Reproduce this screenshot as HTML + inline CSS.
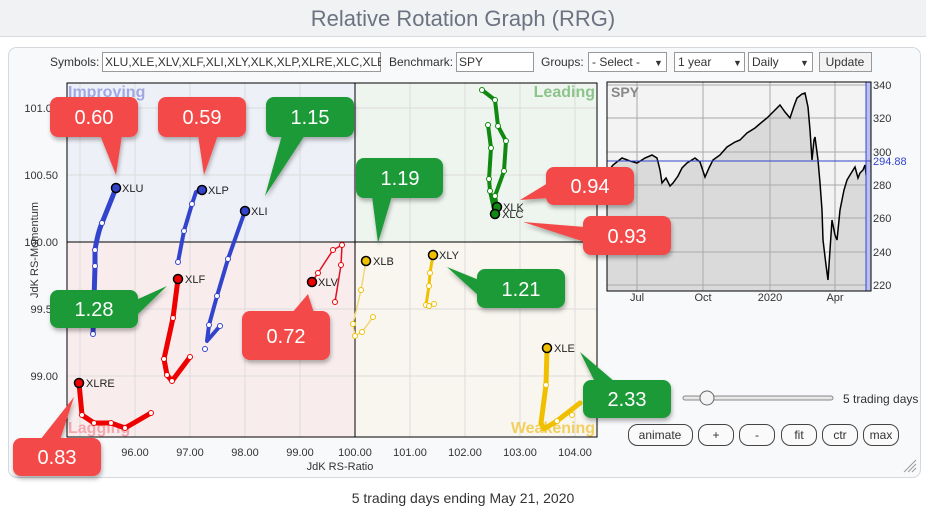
<!DOCTYPE html>
<html><head><meta charset="utf-8"><style>
body{margin:0;width:926px;height:511px;background:#fff;font-family:"Liberation Sans",Arial,sans-serif;overflow:hidden}
svg text{font-family:"Liberation Sans",Arial,sans-serif}
</style></head><body>
<svg width="926" height="511" viewBox="0 0 926 511" xmlns="http://www.w3.org/2000/svg">
<defs>
<filter id="sh" x="-20%" y="-20%" width="150%" height="150%"><feDropShadow dx="1" dy="3" stdDeviation="2" flood-color="#000" flood-opacity="0.3"/></filter>
</defs>
<rect x="0" y="0" width="926" height="36" fill="#f1f2f4"/>
<line x1="0" y1="36.5" x2="926" y2="36.5" stroke="#d8dadd"/>
<text x="463" y="26" text-anchor="middle" font-size="22" fill="#6b7280">Relative Rotation Graph (RRG)</text>
<rect x="8.5" y="47.5" width="912" height="430" rx="8" fill="#f8f9fb" stroke="#d5d8dc"/>
<!-- toolbar -->
<g font-size="12" fill="#333">
<text x="50" y="66">Symbols:</text>
<rect x="102.5" y="52.5" width="278" height="19" fill="#fff" stroke="#999"/>
<text x="105" y="66">XLU,XLE,XLV,XLF,XLI,XLY,XLK,XLP,XLRE,XLC,XLB</text>
<rect x="381" y="52" width="6" height="21" fill="#f8f9fb"/>
<text x="389" y="66">Benchmark:</text>
<rect x="456.5" y="52.5" width="77" height="19" fill="#fff" stroke="#999"/>
<text x="459" y="66">SPY</text>
<text x="541" y="66">Groups:</text>
<rect x="588.5" y="52.5" width="78" height="19" fill="#fff" stroke="#999"/>
<text x="592" y="66">- Select -</text><text x="654" y="66" font-size="9">▼</text>
<rect x="674.5" y="52.5" width="70" height="19" fill="#fff" stroke="#999"/>
<text x="678" y="66">1 year</text><text x="733" y="66" font-size="9">▼</text>
<rect x="748.5" y="52.5" width="64" height="19" fill="#fff" stroke="#999"/>
<text x="752" y="66">Daily</text><text x="800" y="66" font-size="9">▼</text>
<rect x="819.5" y="52.5" width="52" height="19" fill="#f3f3f3" stroke="#999"/>
<text x="845" y="66" text-anchor="middle">Update</text>
</g>
<!-- quadrants -->
<rect x="67" y="83" width="288" height="159" fill="#eef0f8"/>
<rect x="355" y="83" width="242" height="159" fill="#eef5ee"/>
<rect x="67" y="242" width="288" height="195" fill="#f9eced"/>
<rect x="355" y="242" width="242" height="195" fill="#f8f6ee"/>
<g stroke="#dcdcdc" stroke-width="1">
<line x1="80" y1="83" x2="80" y2="437"/><line x1="135" y1="83" x2="135" y2="437"/><line x1="190" y1="83" x2="190" y2="437"/><line x1="245" y1="83" x2="245" y2="437"/><line x1="300" y1="83" x2="300" y2="437"/><line x1="410" y1="83" x2="410" y2="437"/><line x1="465" y1="83" x2="465" y2="437"/><line x1="520" y1="83" x2="520" y2="437"/><line x1="575" y1="83" x2="575" y2="437"/>
<line x1="67" y1="108" x2="597" y2="108"/><line x1="67" y1="175" x2="597" y2="175"/><line x1="67" y1="309" x2="597" y2="309"/><line x1="67" y1="376" x2="597" y2="376"/>
</g>
<line x1="355" y1="83" x2="355" y2="437" stroke="#000"/>
<line x1="67" y1="242" x2="597" y2="242" stroke="#000"/>
<rect x="67" y="83" width="530" height="354" fill="none" stroke="#000"/>
<g font-size="16" font-weight="bold">
<text x="68" y="97" fill="#a0a8e4">Improving</text>
<text x="595" y="97" text-anchor="end" fill="#8cc48c">Leading</text>
<text x="68" y="433" fill="#f2a8b0">Lagging</text>
<text x="595" y="433" text-anchor="end" fill="#f1cf60">Weakening</text>
</g>
<g font-size="11" fill="#333">
<text x="58" y="112" text-anchor="end">101.00</text><text x="58" y="179" text-anchor="end">100.50</text><text x="58" y="246" text-anchor="end">100.00</text><text x="58" y="313" text-anchor="end">99.50</text><text x="58" y="380" text-anchor="end">99.00</text>
<text x="135" y="456" text-anchor="middle">96.00</text><text x="190" y="456" text-anchor="middle">97.00</text><text x="245" y="456" text-anchor="middle">98.00</text><text x="300" y="456" text-anchor="middle">99.00</text><text x="355" y="456" text-anchor="middle">100.00</text><text x="410" y="456" text-anchor="middle">101.00</text><text x="465" y="456" text-anchor="middle">102.00</text><text x="520" y="456" text-anchor="middle">103.00</text><text x="575" y="456" text-anchor="middle">104.00</text>
<text x="340" y="470" text-anchor="middle">JdK RS-Ratio</text>
<text transform="translate(38,250) rotate(-90)" text-anchor="middle">JdK RS-Momentum</text>
</g>
<!-- series -->
<g fill="none" stroke-linecap="round" stroke-linejoin="round">
<path d="M93,334 L95,266 L95,250 Q98,232 102,223 L116,188" stroke="#3344cc" stroke-width="5"/>
<path d="M178,262 L184,231 L192,204 L196,192 L202,190" stroke="#3344cc" stroke-width="4"/>
<path d="M205,349 M220,326 L207,341 L209,325 L217,296 L228,259 L245,211" stroke="#3344cc" stroke-width="4"/>
<path d="M190,357 L172,381 L167,375 L164,359 L173,318 L178,279" stroke="#ee0000" stroke-width="5"/>
<path d="M151,413 L125,428 L111,423 L94,423 L82,415 L79,383" stroke="#ee0000" stroke-width="5"/>
<path d="M335,302 L341,265 L342,245 L333,250 L318,273 L312,282" stroke="#dd1122" stroke-width="1.5"/>
<path d="M373,317 L362,332 L355,336 L353,324 L361,290 L366,261" stroke="#f1d77a" stroke-width="1.5"/>
<path d="M434,304 L429,306 L426,305 L429,286 L430,273 L433,255" stroke="#f0c000" stroke-width="3"/>
<path d="M580,403 L557,421 L544,429 L541,423 L546,385 L547,348" stroke="#f0c000" stroke-width="5"/>
<path d="M482,90 L495,100 L498,126 L506,141 L504,171 L495,196 L497,207" stroke="#118811" stroke-width="4"/>
<path d="M488,125 L491,148 L489,179 L490,191 L495,214" stroke="#118811" stroke-width="4"/>
</g>
<g fill="#fff" stroke-width="1">
<g stroke="#3344cc"><circle cx="102" cy="223" r="2.5"/><circle cx="95" cy="250" r="2.5"/><circle cx="95" cy="266" r="2.5"/><circle cx="93" cy="334" r="2.5"/><circle cx="192" cy="204" r="2.5"/><circle cx="184" cy="231" r="2.5"/><circle cx="178" cy="262" r="2.5"/><circle cx="228" cy="259" r="2.5"/><circle cx="217" cy="296" r="2.5"/><circle cx="209" cy="325" r="2.5"/><circle cx="220" cy="326" r="2.5"/><circle cx="205" cy="349" r="2.5"/></g>
<g stroke="#ee0000"><circle cx="173" cy="318" r="2.5"/><circle cx="164" cy="359" r="2.5"/><circle cx="167" cy="375" r="2.5"/><circle cx="172" cy="381" r="2.5"/><circle cx="190" cy="357" r="2.5"/><circle cx="82" cy="415" r="2.5"/><circle cx="94" cy="423" r="2.5"/><circle cx="111" cy="423" r="2.5"/><circle cx="125" cy="428" r="2.5"/><circle cx="151" cy="413" r="2.5"/><circle cx="318" cy="273" r="2.5"/><circle cx="333" cy="250" r="2.5"/><circle cx="342" cy="245" r="2.5"/><circle cx="341" cy="265" r="2.5"/><circle cx="335" cy="302" r="2.5"/></g>
<g stroke="#f0c000"><circle cx="361" cy="290" r="2.5"/><circle cx="353" cy="324" r="2.5"/><circle cx="355" cy="336" r="2.5"/><circle cx="362" cy="332" r="2.5"/><circle cx="373" cy="317" r="2.5"/><circle cx="430" cy="273" r="2.5"/><circle cx="429" cy="286" r="2.5"/><circle cx="426" cy="305" r="2.5"/><circle cx="429" cy="306" r="2.5"/><circle cx="434" cy="304" r="2.5"/><circle cx="546" cy="385" r="2.5"/><circle cx="557" cy="421" r="2.5"/><circle cx="572" cy="415" r="2.5"/></g>
<g stroke="#118811"><circle cx="482" cy="90" r="2.5"/><circle cx="495" cy="100" r="2.5"/><circle cx="498" cy="126" r="2.5"/><circle cx="506" cy="141" r="2.5"/><circle cx="504" cy="171" r="2.5"/><circle cx="495" cy="196" r="2.5"/><circle cx="488" cy="125" r="2.5"/><circle cx="491" cy="148" r="2.5"/><circle cx="489" cy="179" r="2.5"/><circle cx="490" cy="191" r="2.5"/></g>
</g>
<g stroke="#000" stroke-width="1.5">
<circle cx="116" cy="188" r="4.5" fill="#3344cc"/><circle cx="202" cy="190" r="4.5" fill="#3344cc"/><circle cx="245" cy="211" r="4.5" fill="#3344cc"/>
<circle cx="178" cy="279" r="4.5" fill="#ee0000"/><circle cx="79" cy="383" r="4.5" fill="#ee0000"/><circle cx="312" cy="282" r="4.5" fill="#ee0000"/>
<circle cx="366" cy="261" r="4.5" fill="#f0c000"/><circle cx="433" cy="255" r="4.5" fill="#f0c000"/><circle cx="547" cy="348" r="4.5" fill="#f0c000"/>
<circle cx="497" cy="207" r="4.5" fill="#118811"/><circle cx="495" cy="214" r="4.5" fill="#118811"/>
</g>
<g font-size="11" fill="#222">
<text x="122" y="192">XLU</text><text x="208" y="194">XLP</text><text x="251" y="215">XLI</text><text x="185" y="283">XLF</text><text x="86" y="387">XLRE</text><text x="318" y="286">XLV</text><text x="373" y="265">XLB</text><text x="439" y="259">XLY</text><text x="554" y="352">XLE</text><text x="503" y="211">XLK</text><text x="502" y="218">XLC</text>
</g>
<!-- SPY chart -->
<rect x="607" y="82" width="264" height="209" fill="#f3f3f3"/>
<path d="M607,291 L607,173 L613,165 L622,158 L630,161 L637,163 L645,158 L652,155 L657,158 L660,170 L662,183 L666,178 L670,186 L673,183 L678,176 L682,168 L687,163 L695,158 L700,162 L705,177 L709,168 L713,160 L720,155 L727,147 L735,142 L740,140 L747,133 L755,128 L762,122 L767,118 L772,113 L777,108 L780,105 L785,112 L790,118 L794,106 L797,98 L802,94 L805,93 L808,107 L810,130 L812,160 L814,140 L815,137 L818,160 L820,183 L822,210 L823,240 L826,265 L828,280 L830,250 L832,220 L835,235 L837,240 L840,210 L844,190 L847,180 L850,175 L855,167 L858,178 L860,173 L863,170 L865,165 L867,183 L867,291 Z" fill="#dadada" stroke="none"/>
<g stroke="#aaa" stroke-width="1">
<line x1="637" y1="82" x2="637" y2="291"/><line x1="703" y1="82" x2="703" y2="291"/><line x1="770" y1="82" x2="770" y2="291"/><line x1="835" y1="82" x2="835" y2="291"/>
<line x1="607" y1="85" x2="871" y2="85"/><line x1="607" y1="118" x2="871" y2="118"/><line x1="607" y1="152" x2="871" y2="152"/><line x1="607" y1="185" x2="871" y2="185"/><line x1="607" y1="218" x2="871" y2="218"/><line x1="607" y1="252" x2="871" y2="252"/><line x1="607" y1="285" x2="871" y2="285"/>
</g>
<path d="M607,173 L613,165 L622,158 L630,161 L637,163 L645,158 L652,155 L657,158 L660,170 L662,183 L666,178 L670,186 L673,183 L678,176 L682,168 L687,163 L695,158 L700,162 L705,177 L709,168 L713,160 L720,155 L727,147 L735,142 L740,140 L747,133 L755,128 L762,122 L767,118 L772,113 L777,108 L780,105 L785,112 L790,118 L794,106 L797,98 L802,94 L805,93 L808,107 L810,130 L812,160 L814,140 L815,137 L818,160 L820,183 L822,210 L823,240 L826,265 L828,280 L830,250 L832,220 L835,235 L837,240 L840,210 L844,190 L847,180 L850,175 L855,167 L858,178 L860,173 L863,170 L865,165 L867,183" fill="none" stroke="#000" stroke-width="1.5"/>
<rect x="866" y="82" width="5" height="209" fill="#b8c0f0" stroke="#3344cc" stroke-width="1"/>
<line x1="607" y1="161" x2="871" y2="161" stroke="#3344cc" stroke-width="1"/>
<rect x="607" y="82" width="264" height="209" fill="none" stroke="#000"/>
<text x="611" y="97" font-size="14" font-weight="bold" fill="#888">SPY</text>
<g font-size="11" fill="#333">
<text x="873" y="89">340</text><text x="873" y="122">320</text><text x="873" y="156">300</text><text x="873" y="189">280</text><text x="873" y="222">260</text><text x="873" y="256">240</text><text x="873" y="289">220</text>
<text x="873" y="165" fill="#3344cc">294.88</text>
<text x="637" y="301" text-anchor="middle">Jul</text><text x="703" y="301" text-anchor="middle">Oct</text><text x="770" y="301" text-anchor="middle">2020</text><text x="835" y="301" text-anchor="middle">Apr</text>
</g>
<!-- controls -->
<rect x="683" y="396" width="150" height="4" rx="2" fill="#e8e8e8" stroke="#888"/>
<circle cx="707" cy="398" r="7" fill="#f4f4f4" stroke="#666"/>
<text x="843" y="403" font-size="12" fill="#333">5 trading days</text>
<g font-size="12" fill="#333" text-anchor="middle">
<rect x="628.5" y="424.5" width="64" height="21" rx="9" fill="#fafafa" stroke="#444"/><text x="660" y="439">animate</text>
<rect x="698.5" y="424.5" width="35" height="21" rx="9" fill="#fafafa" stroke="#444"/><text x="716" y="439">+</text>
<rect x="739.5" y="424.5" width="35" height="21" rx="9" fill="#fafafa" stroke="#444"/><text x="757" y="439">-</text>
<rect x="781.5" y="424.5" width="35" height="21" rx="9" fill="#fafafa" stroke="#444"/><text x="799" y="439">fit</text>
<rect x="822.5" y="424.5" width="35" height="21" rx="9" fill="#fafafa" stroke="#444"/><text x="840" y="439">ctr</text>
<rect x="863.5" y="424.5" width="35" height="21" rx="9" fill="#fafafa" stroke="#444"/><text x="881" y="439">max</text>
</g>
<g stroke="#999" stroke-width="1"><line x1="904" y1="472" x2="916" y2="460"/><line x1="908" y1="472" x2="916" y2="464"/><line x1="912" y1="472" x2="916" y2="468"/></g>
<text x="463" y="503" text-anchor="middle" font-size="14" fill="#333">5 trading days ending May 21, 2020</text>
<!-- callouts -->
<g filter="url(#sh)" font-size="20" fill="#fff" text-anchor="middle">
<g fill="#f44848"><rect x="50" y="97" width="88" height="40" rx="8"/><polygon points="100,135 122,135 116,175"/></g>
<g fill="#f44848"><rect x="158" y="97" width="88" height="40" rx="8"/><polygon points="198,135 218,135 204,175"/></g>
<g fill="#1e9a38"><rect x="266" y="97" width="88" height="40" rx="8"/><polygon points="282,135 305,135 265,196"/></g>
<g fill="#1e9a38"><rect x="356" y="158" width="87" height="40" rx="8"/><polygon points="372,196 392,196 378,243"/></g>
<g fill="#f44848"><rect x="546" y="167" width="88" height="38" rx="8"/><polygon points="548,183 548,198 520,200"/></g>
<g fill="#f44848"><rect x="583" y="216" width="88" height="39" rx="8"/><polygon points="585,227 585,242 523,222"/></g>
<g fill="#1e9a38"><rect x="477" y="269" width="88" height="39" rx="8"/><polygon points="479,280 479,296 447,267"/></g>
<g fill="#f44848"><rect x="242" y="311" width="88" height="49" rx="8"/><polygon points="292,313 314,313 308,294"/></g>
<g fill="#1e9a38"><rect x="50" y="290" width="88" height="38" rx="8"/><polygon points="136,300 136,316 167,286"/></g>
<g fill="#f44848"><rect x="13" y="438" width="88" height="38" rx="8"/><polygon points="40,440 60,440 74,397"/></g>
<g fill="#1e9a38"><rect x="583" y="380" width="88" height="38" rx="8"/><polygon points="595,382 615,382 580,352"/></g>
</g>
<g font-size="20" fill="#fff" text-anchor="middle">
<text x="94" y="124">0.60</text><text x="202" y="124">0.59</text><text x="310" y="124">1.15</text><text x="400" y="185">1.19</text>
<text x="590" y="193">0.94</text><text x="627" y="243">0.93</text><text x="521" y="296">1.21</text><text x="286" y="343">0.72</text>
<text x="94" y="316">1.28</text><text x="57" y="464">0.83</text><text x="627" y="406">2.33</text>
</g>
</svg>
</body></html>
